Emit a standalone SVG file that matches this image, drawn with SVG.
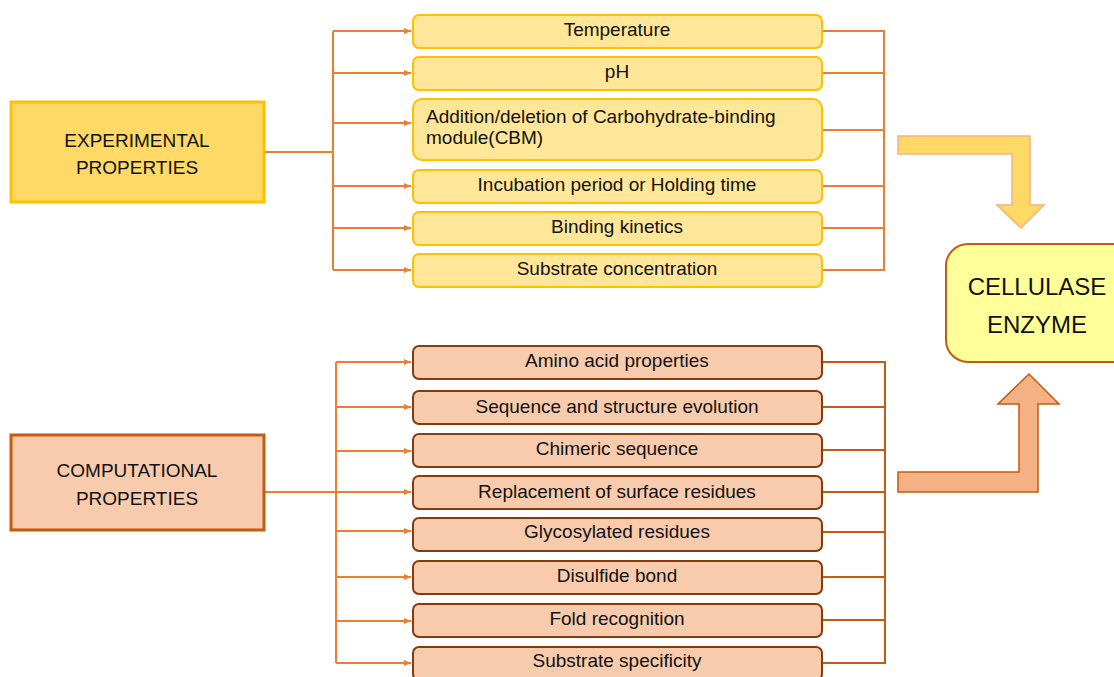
<svg xmlns="http://www.w3.org/2000/svg" width="1114" height="677" viewBox="0 0 1114 677">
<defs>
<marker id="ah" markerWidth="8" markerHeight="8" refX="7" refY="4" orient="auto" markerUnits="userSpaceOnUse">
<path d="M0,1 L7,4 L0,7 Z" fill="#ED7D31"/>
</marker>
<style>
text{font-family:"Liberation Sans",Arial,sans-serif;fill:#111;}
.t{font-size:19px;text-anchor:middle;}
.h{font-size:19px;text-anchor:middle;}
.exp{fill:#FFE699;stroke:#FFC000;stroke-width:2;}
.cmp{fill:#F8CBAD;stroke:#843C0C;stroke-width:2;}
.c{fill:none;stroke:#ED7D31;stroke-width:2;}
</style>
</defs>
<rect width="1114" height="677" fill="#fff"/>
<g id="connectors">
<path class="c" d="M265,152 H333"/>
<path class="c" d="M333,31 V270"/>
<path class="c" d="M333,31 H411" marker-end="url(#ah)"/>
<path class="c" d="M333,73 H411" marker-end="url(#ah)"/>
<path class="c" d="M333,123 H411" marker-end="url(#ah)"/>
<path class="c" d="M333,186 H411" marker-end="url(#ah)"/>
<path class="c" d="M333,228 H411" marker-end="url(#ah)"/>
<path class="c" d="M333,270 H411" marker-end="url(#ah)"/>
<path class="c" d="M822,31 H884 V270 H822 M822,73 H884 M822,130 H884 M822,186 H884 M822,228 H884"/>
<path class="c" d="M265,492 H411" marker-end="url(#ah)"/>
<path class="c" d="M336,362 V663"/>
<path class="c" d="M336,362 H411" marker-end="url(#ah)"/>
<path class="c" d="M336,407 H411" marker-end="url(#ah)"/>
<path class="c" d="M336,451 H411" marker-end="url(#ah)"/>
<path class="c" d="M336,531 H411" marker-end="url(#ah)"/>
<path class="c" d="M336,577 H411" marker-end="url(#ah)"/>
<path class="c" d="M336,621 H411" marker-end="url(#ah)"/>
<path class="c" d="M336,663 H411" marker-end="url(#ah)"/>
<path d="M822,362 H885 V663 H822 M822,407 H885 M822,450 H885 M822,492 H885 M822,532 H885 M822,577 H885 M822,620 H885" fill="none" stroke="#C55A11" stroke-width="2"/>
<path d="M898,136 H1030 V205 H1044 L1021,228 L997,205 H1012 V154 H898 Z" fill="#FFD966" stroke="#F4B183" stroke-width="1.5"/>
<path d="M898,492 H1038 V404 H1059 L1029,374 L998,404 H1019 V472 H898 Z" fill="#F4B183" stroke="#C55A11" stroke-width="1.5"/>
</g>
<g id="experimental">
<rect x="11" y="102" width="253" height="100" fill="#FFD966" stroke="#FFC000" stroke-width="3"/>
<text class="h" x="137" y="147">EXPERIMENTAL</text>
<text class="h" x="137" y="174">PROPERTIES</text>
</g>
<g id="computational">
<rect x="11" y="435" width="253" height="95" fill="#F8CBAD" stroke="#C55A11" stroke-width="3"/>
<text class="h" x="137" y="477">COMPUTATIONAL</text>
<text class="h" x="137" y="505">PROPERTIES</text>
</g>
<g id="cellulase">
<rect x="946" y="244" width="190" height="118" rx="22" fill="#FFFF99" stroke="#C55A11" stroke-width="2"/>
<text x="1037" y="295" style="font-size:24px;text-anchor:middle;">CELLULASE</text>
<text x="1037" y="333" style="font-size:24px;text-anchor:middle;">ENZYME</text>
</g>
<g id="temperature"><rect class="exp" x="413" y="15" width="409" height="33" rx="6"/><text class="t" x="617" y="36">Temperature</text></g>
<g id="ph"><rect class="exp" x="413" y="57" width="409" height="33" rx="6"/><text class="t" x="617" y="78">pH</text></g>
<g id="cbm"><rect class="exp" x="413" y="99" width="409" height="61" rx="9"/><text x="426" y="123" style="font-size:19px;">Addition/deletion of Carbohydrate-binding</text><text x="426" y="144" style="font-size:19px;">module(CBM)</text></g>
<g id="incubation"><rect class="exp" x="413" y="170" width="409" height="33" rx="6"/><text class="t" x="617" y="191">Incubation period or Holding time</text></g>
<g id="binding"><rect class="exp" x="413" y="212" width="409" height="33" rx="6"/><text class="t" x="617" y="233">Binding kinetics</text></g>
<g id="substrate-conc"><rect class="exp" x="413" y="254" width="409" height="33" rx="6"/><text class="t" x="617" y="275">Substrate concentration</text></g>
<g id="amino"><rect class="cmp" x="413" y="346" width="409" height="33" rx="6"/><text class="t" x="617" y="367">Amino acid properties</text></g>
<g id="sequence"><rect class="cmp" x="413" y="391" width="409" height="33" rx="6"/><text class="t" x="617" y="413">Sequence and structure evolution</text></g>
<g id="chimeric"><rect class="cmp" x="413" y="434" width="409" height="33" rx="6"/><text class="t" x="617" y="455">Chimeric sequence</text></g>
<g id="replacement"><rect class="cmp" x="413" y="476" width="409" height="33" rx="6"/><text class="t" x="617" y="498">Replacement of surface residues</text></g>
<g id="glycosylated"><rect class="cmp" x="413" y="518" width="409" height="33" rx="6"/><text class="t" x="617" y="538">Glycosylated residues</text></g>
<g id="disulfide"><rect class="cmp" x="413" y="561" width="409" height="33" rx="6"/><text class="t" x="617" y="582">Disulfide bond</text></g>
<g id="fold"><rect class="cmp" x="413" y="604" width="409" height="33" rx="6"/><text class="t" x="617" y="625">Fold recognition</text></g>
<g id="specificity"><rect class="cmp" x="413" y="647" width="409" height="33" rx="6"/><text class="t" x="617" y="667">Substrate specificity</text></g>
</svg>
